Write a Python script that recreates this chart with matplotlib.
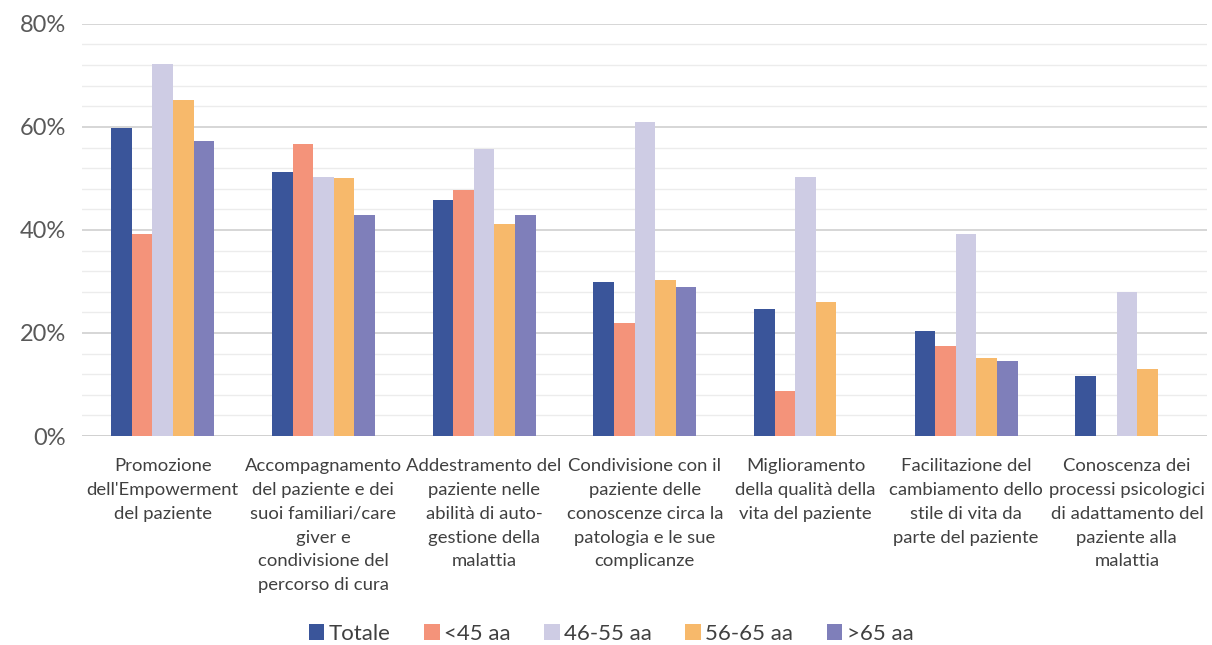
import numpy as np
import matplotlib.pyplot as plt
from matplotlib.ticker import MultipleLocator, FuncFormatter

categories = [
    "Promozione\ndell'Empowerment\ndel paziente",
    "Accompagnamento\ndel paziente e dei\nsuoi familiari/care\ngiver e\ncondivisione del\npercorso di cura",
    "Addestramento del\npaziente nelle\nabilità di auto-\ngestione della\nmalattia",
    "Condivisione con il\npaziente delle\nconoscenze circa la\npatologia e le sue\ncomplicanze",
    "Miglioramento\ndella qualità della\nvita del paziente",
    "Facilitazione del\ncambiamento dello\nstile di vita da\nparte del paziente",
    "Conoscenza dei\nprocessi psicologici\ndi adattamento del\npaziente alla\nmalattia",
]
series_names = ["Totale", "<45 aa", "46-55 aa", "56-65 aa", ">65 aa"]
totale = [59.7, 51.3, 45.8, 29.8, 24.7, 20.4, 11.7]
under45 = [39.2, 56.7, 47.8, 21.9, 8.8, 17.5, 0]
age46_55 = [72.2, 50.2, 55.7, 61.0, 50.2, 39.2, 28.0]
age56_65 = [65.2, 50.0, 41.1, 30.3, 26.0, 15.1, 13.0]
over65 = [57.2, 42.9, 42.9, 28.9, 0, 14.5, 0]
colors = ["#3A559A", "#F4937A", "#CECCE4", "#F7B96B", "#7F7FBA"]

plt.rcParams['font.family'] = ['Lato', 'DejaVu Sans']

fig = plt.figure(figsize=(12.12, 6.45), dpi=100)
ax = fig.add_axes([0.068, 0.324, 0.928, 0.639])

x = np.arange(len(categories))
width = 0.128
all_series = [totale, under45, age46_55, age56_65, over65]
for i, (vals, name, col) in enumerate(zip(all_series, series_names, colors)):
    ax.bar(x + (i - 2) * width, vals, width, color=col, label=name, zorder=3)

ax.set_xlim(-0.5, len(categories) - 0.5)
ax.set_ylim(0, 80)
ax.yaxis.set_major_locator(MultipleLocator(20))
ax.yaxis.set_minor_locator(MultipleLocator(4))
ax.yaxis.set_major_formatter(FuncFormatter(lambda v, p: f"{v:.0f}%"))
ax.grid(axis='y', which='major', color='#D0D0D0', linewidth=1.2, zorder=0)
ax.grid(axis='y', which='minor', color='#ECECEC', linewidth=1.0, zorder=0)
for s in ax.spines.values():
    s.set_visible(False)
ax.axhline(0, color='#D0D0D0', linewidth=1.2, zorder=2)
ax.tick_params(axis='both', which='both', length=0)
ax.tick_params(axis='y', labelsize=17, labelcolor='#595959', pad=12)
ax.set_xticks(x)
ax.set_xticklabels(categories, fontsize=13.3, color='#404040', va='top',
                   linespacing=1.6)
ax.tick_params(axis='x', pad=16)

ax.legend(loc='center', bbox_to_anchor=(0.47, -0.48), ncol=5, frameon=False,
          fontsize=16, handlelength=0.7, handleheight=0.7, handletextpad=0.2,
          columnspacing=1.5, labelcolor='#404040')

fig.savefig("out.png", dpi=100)
